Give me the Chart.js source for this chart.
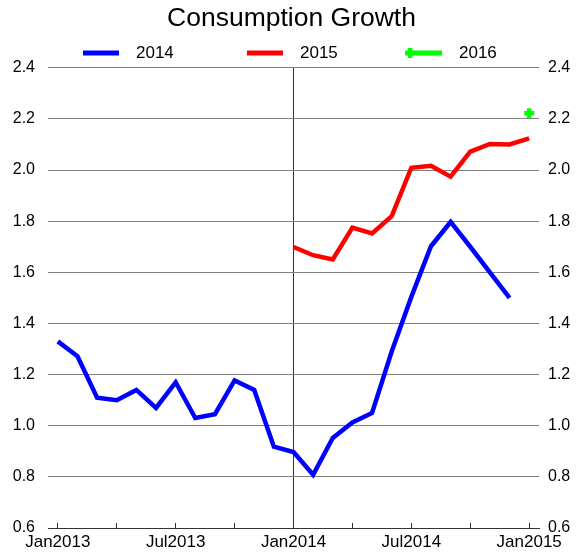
<!DOCTYPE html>
<html>
<head>
<meta charset="utf-8">
<script src="https://cdn.jsdelivr.net/npm/chart.js@4/dist/chart.umd.min.js"></script>
<style>
  html, body { margin: 0; padding: 0; background: #fff; }
  canvas { display: block; }
</style>
</head>
<body>
<canvas id="myChart" width="576" height="554"></canvas>
<script>
// months Jan2013 .. Jan2015
var months = ['Jan2013','Feb2013','Mar2013','Apr2013','May2013','Jun2013','Jul2013','Aug2013','Sep2013','Oct2013','Nov2013','Dec2013',
              'Jan2014','Feb2014','Mar2014','Apr2014','May2014','Jun2014','Jul2014','Aug2014','Sep2014','Oct2014','Nov2014','Dec2014',
              'Jan2015'];
var shownLabels = ['Jan2013','Jul2013','Jan2014','Jul2014','Jan2015'];

var series2014 = [1.33, 1.272, 1.11, 1.10, 1.14, 1.07, 1.17, 1.03, 1.045, 1.177, 1.14, 0.918,
                  0.897, 0.808, 0.952, 1.013, 1.05, 1.29, 1.504, 1.702, 1.797, 1.70, 1.60, 1.50,
                  null];
var series2015 = [null, null, null, null, null, null, null, null, null, null, null, null,
                  1.699, 1.667, 1.65, 1.775, 1.752, 1.82, 2.009, 2.017, 1.974, 2.072, 2.102, 2.10,
                  2.124];
var series2016 = [null, null, null, null, null, null, null, null, null, null, null, null,
                  null, null, null, null, null, null, null, null, null, null, null, null,
                  2.222];

var yTicks = [0.6, 0.8, 1.0, 1.2, 1.4, 1.6, 1.8, 2.0, 2.2, 2.4];

var FONT = "'Liberation Sans', Arial, sans-serif";

// legend drawn by hand so spacing matches the picture
var legendPlugin = {
  id: 'manualLegend',
  afterDraw: function(chart) {
    var ctx = chart.ctx;
    var xs = [83, 247, 406];
    var y = 53;
    ctx.save();
    chart.data.datasets.forEach(function(ds, i) {
      var x = xs[i];
      ctx.strokeStyle = ds.borderColor;
      ctx.lineWidth = 5;
      ctx.lineCap = 'butt';
      ctx.beginPath();
      ctx.moveTo(x, y);
      ctx.lineTo(x + 36, y);
      ctx.stroke();
      if (ds.pointStyle === 'cross') {
        ctx.lineWidth = 4.5;
        ctx.beginPath();
        ctx.moveTo(x - 1, y); ctx.lineTo(x + 9, y);
        ctx.moveTo(x + 4, y - 5); ctx.lineTo(x + 4, y + 5);
        ctx.stroke();
      }
      ctx.fillStyle = '#000';
      ctx.font = '17px ' + FONT;
      ctx.textBaseline = 'middle';
      ctx.textAlign = 'left';
      ctx.fillText(ds.label, x + 53, y);
    });
    ctx.restore();
  }
};

var data = {
  labels: months,
  datasets: [{
    label: '2014',
    data: series2014,
    borderColor: '#0000ff',
    backgroundColor: '#0000ff',
    borderWidth: 4.5,
    pointRadius: 0,
    tension: 0,
    spanGaps: false
  }, {
    label: '2015',
    data: series2015,
    borderColor: '#ff0000',
    backgroundColor: '#ff0000',
    borderWidth: 4.5,
    pointRadius: 0,
    tension: 0
  }, {
    label: '2016',
    data: series2016,
    borderColor: '#00ff00',
    backgroundColor: '#00ff00',
    borderWidth: 4.5,
    showLine: false,
    pointStyle: 'cross',
    pointRadius: 5,
    pointBorderWidth: 4.5,
    pointBorderColor: '#00ff00'
  }]
};

var config = {
  type: 'line',
  data: data,
  plugins: [legendPlugin],
  options: {
    responsive: false,
    animation: false,
    layout: { padding: { left: 13, right: 6, top: 0, bottom: 4 } },
    plugins: {
      legend: { display: false },
      tooltip: { enabled: false },
      title: {
        display: true,
        text: 'Consumption Growth',
        color: '#000',
        font: { family: FONT, size: 26.5, weight: 'normal' },
        padding: { top: 3, bottom: 33 }
      }
    },
    scales: {
      x: {
        type: 'category',
        offset: true,
        afterFit: function(scale) {
          scale.paddingLeft = 0;
          scale.paddingRight = 0;
          scale.height = 22;
        },
        grid: {
          drawOnChartArea: true,
          color: function(c) { return c.index === 12 ? '#333' : 'rgba(0,0,0,0)'; },
          tickColor: function(c) { return c.index % 3 === 0 ? '#333' : 'rgba(0,0,0,0)'; },
          tickLength: -5,
          lineWidth: 1
        },
        border: { display: true, color: '#333', width: 1 },
        ticks: {
          autoSkip: false,
          maxRotation: 0,
          padding: 9,
          color: '#000',
          font: { family: FONT, size: 17 },
          callback: function(v, i) {
            var lab = months[i];
            return shownLabels.indexOf(lab) >= 0 ? lab : '';
          }
        }
      },
      y: {
        position: 'left',
        min: yTicks[0],
        max: yTicks[yTicks.length - 1],
        afterBuildTicks: function(axis) { axis.ticks = yTicks.map(function(v) { return { value: v }; }); },
        afterFit: function(scale) { scale.width = 35; },
        grid: { color: '#808080', drawTicks: false, lineWidth: 1 },
        border: { display: false },
        ticks: {
          padding: 13,
          color: '#000',
          font: { family: FONT, size: 16 },
          callback: function(v) { return Number(v).toFixed(1); }
        }
      },
      y2: {
        position: 'right',
        min: yTicks[0],
        max: yTicks[yTicks.length - 1],
        afterBuildTicks: function(axis) { axis.ticks = yTicks.map(function(v) { return { value: v }; }); },
        afterFit: function(scale) { scale.width = 31; },
        grid: { display: false, drawTicks: false },
        border: { display: false },
        ticks: {
          padding: 9,
          color: '#000',
          font: { family: FONT, size: 16 },
          callback: function(v) { return Number(v).toFixed(1); }
        }
      }
    }
  }
};

var myChart = new Chart(document.getElementById('myChart'), config);
</script>
</body>
</html>
